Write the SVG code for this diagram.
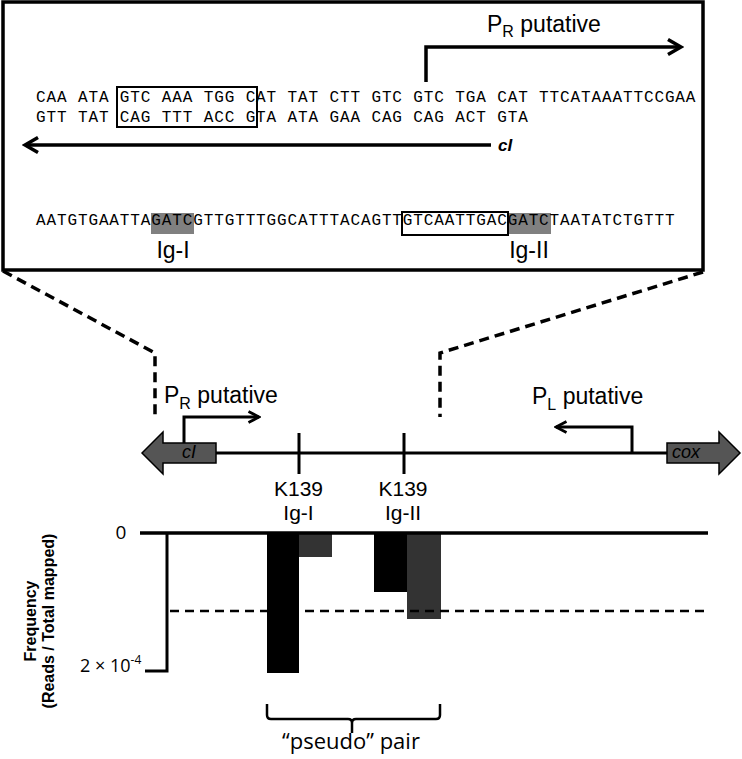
<svg xmlns="http://www.w3.org/2000/svg" width="742" height="759" viewBox="0 0 742 759">
<defs>
<style>
.seq{font-family:"Liberation Mono","Courier New",monospace;font-size:16px;letter-spacing:0.88px;fill:#000}
.sans{font-family:"Liberation Sans",Arial,sans-serif;fill:#000}
.cal{font-family:"Open Sans","Noto Sans",sans-serif;fill:#000}
.ln{stroke:#000;fill:none}
.dash{stroke:#000;fill:none;stroke-width:3.5;stroke-dasharray:10 6}
.gene{fill:#555;stroke:#000;stroke-width:1.5}
</style>
<marker id="chevL" viewBox="0 0 18 18" refX="15" refY="9" markerWidth="18" markerHeight="18" markerUnits="userSpaceOnUse" orient="auto">
<path d="M2,1.5 L15,9 L2,16.5" fill="none" stroke="#000" stroke-width="3.5"/>
</marker>
<marker id="chevS" viewBox="0 0 14 14" refX="12" refY="7" markerWidth="14" markerHeight="14" markerUnits="userSpaceOnUse" orient="auto">
<path d="M1.5,1.5 L12,7 L1.5,12.5" fill="none" stroke="#000" stroke-width="2.8"/>
</marker>
</defs>
<rect width="742" height="759" fill="#fff"/>

<g id="inset">
<rect x="3" y="2" width="700" height="268" fill="none" stroke="#000" stroke-width="3.5"/>
<rect x="151" y="213" width="43" height="21" fill="#808080"/>
<rect x="508" y="213" width="43" height="21" fill="#808080"/>
<text class="seq" x="36" y="102">CAA ATA GTC AAA TGG CAT TAT CTT GTC GTC TGA CAT TTCATAAATTCCGAA</text>
<text class="seq" x="36" y="122">GTT TAT CAG TTT ACC GTA ATA GAA CAG CAG ACT GTA</text>
<rect x="117" y="87" width="140" height="40" fill="none" stroke="#000" stroke-width="2"/>
<text class="seq" x="36" y="225">AATGTGAATTAGATCGTTGTTTGGCATTTACAGTTGTCAATTGACGATCTAATATCTGTTT</text>
<rect x="402" y="212" width="106" height="23" fill="none" stroke="#000" stroke-width="2"/>
<text class="sans" x="173" y="258" font-size="23" text-anchor="middle">Ig-I</text>
<text class="sans" x="529" y="258" font-size="23" text-anchor="middle">Ig-II</text>
<path class="ln" d="M426,82 V47 H681" stroke-width="3.5" marker-end="url(#chevL)"/>
<text class="sans" x="487" y="32" font-size="23">P<tspan font-size="16" dy="5">R</tspan><tspan dy="-5"> putative</tspan></text>
<path class="ln" d="M491,145 H25" stroke-width="3.5" marker-end="url(#chevL)"/>
<text class="sans" x="498" y="151" font-size="17" font-style="italic" font-weight="bold">cI</text>
</g>

<g id="connectors">
<path class="dash" d="M3,271 L155,353 V417"/>
<path class="dash" d="M703,272 L440,353 V417"/>
</g>

<g id="genome">
<path class="ln" d="M216,453 H667" stroke-width="3"/>
<path class="ln" d="M299,433 V474 M404,433 V474" stroke-width="3"/>
</g>

<g id="cI">
<path class="gene" d="M142,453 L163,432 V443 H216 V463 H163 V474 Z"/>
<text class="sans" x="189" y="458" font-size="18" font-style="italic" text-anchor="middle">cI</text>
</g>

<g id="cox">
<path class="gene" d="M667,443 H719 V432 L740,453 L719,474 V463 H667 Z"/>
<text class="sans" x="686" y="458" font-size="18" font-style="italic" text-anchor="middle">cox</text>
</g>

<g id="PR">
<path class="ln" d="M184,443 V417 H259" stroke-width="3" marker-end="url(#chevS)"/>
<text class="sans" x="164" y="403" font-size="23">P<tspan font-size="16" dy="6">R</tspan><tspan dy="-6"> putative</tspan></text>
</g>

<g id="PL">
<path class="ln" d="M632,453 V427 H556" stroke-width="3" marker-end="url(#chevS)"/>
<text class="sans" x="532" y="404" font-size="23">P<tspan font-size="16" dy="6">L</tspan><tspan dy="-6"> putative</tspan></text>
</g>

<g id="site-labels">
<text class="sans" x="298.5" y="496" font-size="21" text-anchor="middle">K139</text>
<text class="sans" x="298.5" y="520" font-size="21" text-anchor="middle">Ig-I</text>
<text class="sans" x="403" y="496" font-size="21" text-anchor="middle">K139</text>
<text class="sans" x="403" y="520" font-size="21" text-anchor="middle">Ig-II</text>
</g>

<g id="chart">
<rect x="267" y="533" width="32" height="140" fill="#000"/>
<rect x="299" y="533" width="33" height="24" fill="#333"/>
<rect x="374" y="533" width="33" height="59" fill="#000"/>
<rect x="407" y="533" width="34" height="86" fill="#333"/>
<path class="ln" d="M140,533 H708" stroke-width="3.5"/>
<path class="ln" d="M167,533 V671 H145" stroke-width="3"/>
<path class="ln" d="M170,611 H708" stroke-width="2.5" stroke-dasharray="9 6"/>
<text class="cal" x="121" y="539" font-size="19" text-anchor="middle">0</text>
<text class="cal" x="80" y="672" font-size="18">2 × 10<tspan font-size="12" dy="-8">-4</tspan></text>
<text class="sans" font-size="16" font-weight="bold" text-anchor="middle" transform="translate(36,621) rotate(-90)">Frequency</text>
<text class="sans" font-size="16" font-weight="bold" text-anchor="middle" transform="translate(54,621) rotate(-90)">(Reads / Total mapped)</text>
</g>

<g id="pair">
<path class="ln" d="M267,704 V715 Q267,719 271,719 H348 Q352,719 352,723 V733 M352,723 Q352,719 356,719 H436 Q440,719 440,715 V704" stroke-width="2.5"/>
<text class="cal" x="351" y="749" font-size="22" text-anchor="middle">“pseudo” pair</text>
</g>
</svg>
